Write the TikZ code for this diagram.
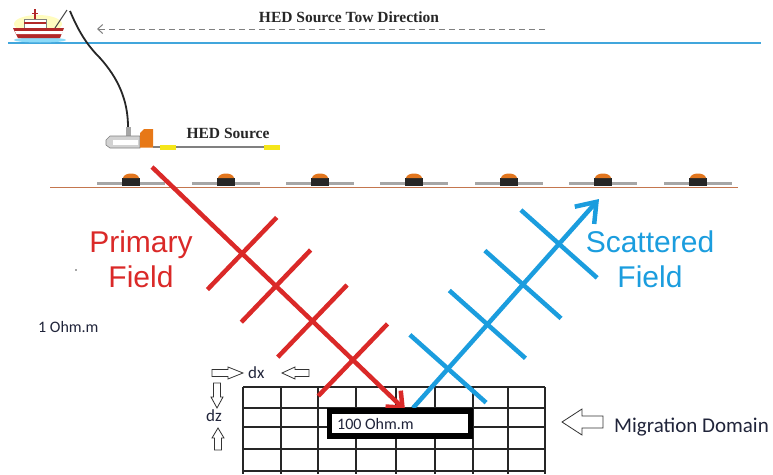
\documentclass[tikz,border=0pt]{standalone}
\usepackage{fontspec}
\setmainfont{Liberation Serif}
\newfontfamily\arialfont{Liberation Sans}
\newfontfamily\calibrifont{Carlito}
\usetikzlibrary{arrows.meta,calc}

\definecolor{fieldred}{RGB}{218,41,40}
\definecolor{fieldblue}{RGB}{27,157,222}
\definecolor{seablue}{RGB}{65,166,220}
\definecolor{floorbrown}{RGB}{196,118,78}
\definecolor{rcvorange}{RGB}{226,118,30}
\definecolor{srcorange}{RGB}{231,120,23}
\definecolor{bandyellow}{RGB}{245,230,26}
\definecolor{labelink}{RGB}{32,36,58}
\definecolor{hullred}{RGB}{178,40,40}

% hollow block arrow: tip, direction angle, total length, shaft width, head width, head length
\newcommand{\hollowarrow}[6]{%
  \draw[blockarrow, shift={#1}, rotate=#2]
    (0,0) -- (-#6,#5/2) -- (-#6,#4/2) -- (-#3,#4/2) -- (-#3,-#4/2)
    -- (-#6,-#4/2) -- (-#6,-#5/2) -- cycle;}

\tikzset{
  blockarrow/.style={draw=black!80, fill=white, line width=0.8pt, line join=miter},
  fieldline/.style={line width=4.5pt},
  redfield/.style={fieldline, draw=fieldred},
  bluefield/.style={fieldline, draw=fieldblue},
  gridline/.style={draw=black!85, line width=1.1pt},
  calitext/.style={inner sep=0pt, text=labelink, font=\calibrifont\fontsize{16}{19}\selectfont},
  bigtext/.style={inner sep=0pt, align=center, font=\arialfont\fontsize{30}{35}\selectfont},
  serifbold/.style={inner sep=0pt, text=black!85, font=\bfseries\fontsize{15.5}{18}\selectfont},
}

\begin{document}
\begin{tikzpicture}[x=1pt,y=-1pt]
\useasboundingbox (0,0) rectangle (773,474);

% ---- sea surface and tow direction
\draw[seablue, line width=1.5pt] (8,43) coordinate (seaW) -- (761,43) coordinate (seaE);
\coordinate (towstart) at (545,29);
\coordinate (towend) at (97,29);
\draw[gray, line width=1pt, dash pattern=on 6pt off 4pt,
      -{Straight Barb[length=5pt,width=9pt]}] (towstart) -- (towend);
\node[serifbold, anchor=base] (towlabel) at (349,22) {HED Source Tow Direction};

% ---- vessel
\fill[yellow!25] (38,24) ellipse [x radius=24, y radius=9];
\fill[cyan!45] (40,40) ellipse [x radius=26, y radius=2.5];
\fill[white, draw=gray, line width=0.4pt] (24,19) rectangle (46,28);
\fill[hullred] (24,22) rectangle (46,24);
\draw[hullred, line width=1.2pt] (35,9) -- (35,19);
\draw[hullred, line width=0.8pt] (32,13) -- (38,13);
\fill[hullred] (13,28) -- (64,28) -- (60,38) -- (18,38) -- cycle;
\fill[white] (15,31) -- (63,31) -- (62,34) -- (16,34) -- cycle;
\draw[black!70, line width=1pt] (55,28) -- (67,10);
\coordinate (crane) at (70,11);

% ---- tow cable and source
\coordinate (cablebottom) at (128,127);
\draw[black!85, line width=1.8pt] (crane) .. controls (78,30) and (86,44) .. (100,58)
  .. controls (118,78) and (128,100) .. (cablebottom);
\fill[gray!70] (125.5,127) rectangle (130.5,136);
\filldraw[fill=gray!35, draw=gray, line width=0.6pt]
  (106,140) -- (110,136) -- (140,136) -- (140,148) -- (110,148) -- (106,145) -- cycle;
\fill[white] (113,139.5) rectangle (138,144.5);
\fill[srcorange] (140,133) -- (144,129) -- (153,129) -- (153,147.5) -- (140,147.5) -- cycle;
\coordinate (lineW) at (153,147);
\coordinate (lineE) at (280,147);
\draw[gray, line width=1.2pt] (lineW) -- (lineE);
\fill[bandyellow] (160,145) rectangle (176,149.5);
\fill[bandyellow] (264,145) rectangle (280,149.5);
\node[serifbold, anchor=base] (srclabel) at (228,138) {HED Source};

% ---- seafloor and receivers
\draw[floorbrown, line width=1.3pt] (50,187.5) coordinate (floorW) -- (738,187.5) coordinate (floorE);
\foreach \cx in {131,226,320,414,509,603,698}{
  \draw[gray!70, line width=2.5pt] (\cx-34,183.5) -- (\cx+34,183.5);
  \fill[black!85] (\cx-9,177.5) rectangle (\cx+9,186);
  \fill[rcvorange] (\cx-8,178) .. controls (\cx-7,172) and (\cx+7,172) .. (\cx+8,178) -- cycle;
}

% ---- migration grid
\foreach \gx in {243,281,318,356,396,435,473,508,545}
  \draw[gridline] (\gx,387) -- (\gx,474);
\foreach \gy in {387,408,427,449,471}
  \draw[gridline] (243,\gy) -- (545,\gy);

% ---- primary field (red)
\coordinate (redstart) at (152,167);
\coordinate (redtip) at (405,410);
\draw[redfield, -{Straight Barb[length=13pt,width=22pt]}] (redstart) -- (redtip);
\foreach \t in {0.356,0.49,0.634,0.794}{
  \coordinate (rc) at ($(redstart)!\t!(redtip)$);
  \draw[redfield] ($(rc)!50pt!90:(redtip)$) -- ($(rc)!50pt!-90:(redtip)$);
}
\node[bigtext, text=fieldred] (primlabel) at (141,259.5) {Primary\\Field};

% ---- scattered field (blue)
\coordinate (bluestart) at (413,408);
\coordinate (bluetip) at (599,199);
\draw[bluefield, -{Straight Barb[length=18pt,width=26pt]}] (bluestart) -- (bluetip);
\foreach \t in {0.188,0.40,0.591,0.785}{
  \coordinate (bc) at ($(bluestart)!\t!(bluetip)$);
  \draw[bluefield] ($(bc)!51pt!90:(bluetip)$) -- ($(bc)!51pt!-90:(bluetip)$);
}
\node[bigtext, text=fieldblue] (scatlabel) at (650,259.5) {Scattered\\Field};

% ---- anomalous cell block
\draw[black, fill=white, line width=5.5pt] (329.5,411) rectangle (470.5,436);
\node[calitext, anchor=base west] (anomres) at (337,429) {100 Ohm.m};

% ---- background resistivity
\node[calitext, anchor=base west] (bgres) at (38,332) {1 Ohm.m};
\fill[black!70] (76,270) circle (0.8);

% ---- cell size markers
\hollowarrow{(243,373)}{0}{31}{7}{12}{15}
\hollowarrow{(282,373)}{180}{27}{7}{12}{13}
\node[calitext, anchor=base west, font=\calibrifont\fontsize{17}{20}\selectfont] (dxlabel) at (248,378) {dx};
\hollowarrow{(217,408)}{-90}{25}{7}{12}{11}
\hollowarrow{(218,428)}{90}{22}{7}{12}{10}
\node[calitext, anchor=base west, font=\calibrifont\fontsize{17}{20}\selectfont] (dzlabel) at (206,421) {dz};

% ---- domain label
\hollowarrow{(562,422)}{180}{41}{12}{26}{20}
\node[calitext, anchor=base west, font=\calibrifont\fontsize{21}{25}\selectfont] (domlabel) at (614,432) {Migration Domain};

\end{tikzpicture}
\end{document}
